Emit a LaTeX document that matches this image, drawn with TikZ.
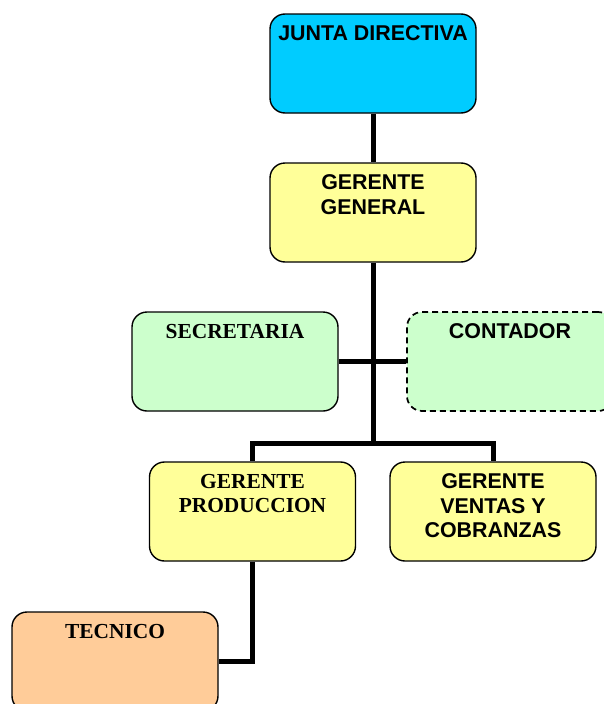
\documentclass[tikz,border=0pt]{standalone}
\usepackage{fontspec}
\setmainfont{Liberation Serif}
\setsansfont{Liberation Sans}
\definecolor{cjunta}{HTML}{00CCFF}
\definecolor{cyel}{HTML}{FFFF99}
\definecolor{cgreen}{HTML}{CCFFCC}
\definecolor{corange}{HTML}{FFCC99}
\newcommand{\boxtext}[2]{\parbox[c][99pt][t]{206pt}{\centering\fontsize{21.4}{24.5}\selectfont\bfseries #1\vspace*{12pt}#2\par}}
\begin{document}
\begin{tikzpicture}[x=1pt,y=-1pt,
  orgbox/.style={draw=black,line width=1.4pt,rounded corners=15pt,inner sep=0pt,minimum width=206pt,minimum height=99pt},
  conn/.style={line width=5pt,draw=black}]
\useasboundingbox (0,0) rectangle (603,704);
\node[orgbox,fill=cjunta] (junta) at (373,63.5) {\boxtext{\sffamily}{JUNTA DIRECTIVA}};
\node[orgbox,fill=cyel] (gg) at (373,212.5) {\boxtext{\sffamily}{GERENTE\\GENERAL}};
\node[orgbox,fill=cgreen] (sec) at (235,361.5) {\boxtext{\rmfamily}{SECRETARIA}};
\node[orgbox,fill=cgreen,line width=1.7pt,dash pattern=on 6pt off 4pt] (cont) at (510,361.5) {\boxtext{\sffamily}{CONTADOR}};
\node[orgbox,fill=cyel] (gp) at (252.5,511.5) {\boxtext{\rmfamily}{GERENTE\\PRODUCCION}};
\node[orgbox,fill=cyel] (gv) at (493,511.5) {\boxtext{\sffamily}{GERENTE\\VENTAS Y\\COBRANZAS}};
\node[orgbox,fill=corange] (tec) at (115,661.5) {\boxtext{\rmfamily}{TECNICO}};
\coordinate (bus) at (373,443);
\draw[conn] (junta.south) -- (gg.north);
\draw[conn] (gg.south) -- (bus);
\draw[conn] (sec.east) -- (cont.west);
\draw[conn] (gp.north) |- (bus) -| (gv.north);
\draw[conn] (gp.south) |- (tec.east);
\end{tikzpicture}
\end{document}
